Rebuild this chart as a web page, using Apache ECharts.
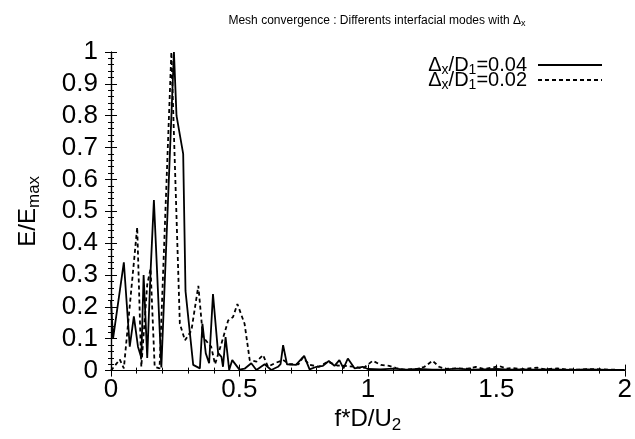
<!DOCTYPE html>
<html><head><meta charset="utf-8">
<script src="https://cdn.jsdelivr.net/npm/echarts@6/dist/echarts.min.js"></script>
<style>html,body{margin:0;padding:0;background:#fff}#c{width:635px;height:439px}</style>
</head><body><div id="c"></div>
<script>
var xTicks = [0, 0.5, 1, 1.5, 2];
var yTicks = [0, 0.1, 0.2, 0.3, 0.4, 0.5, 0.6, 0.7, 0.8, 0.9, 1];
var seriesNames = ['dx004', 'dx002'];
var legendLabels = ['\u0394{s|x}/D{s|1}=0.04', '\u0394{s|x}/D{s|1}=0.02'];

var solidX = [0, 0.008, 0.05, 0.073, 0.089, 0.105, 0.118, 0.127, 0.141, 0.154,
  0.167, 0.196, 0.245, 0.255, 0.281, 0.29, 0.32, 0.346, 0.356, 0.369,
  0.382, 0.397, 0.417, 0.43, 0.436, 0.446, 0.46, 0.472, 0.5, 0.52,
  0.546, 0.566, 0.598, 0.624, 0.65, 0.66, 0.67, 0.685, 0.72, 0.752, 0.773,
  0.8, 0.825, 0.848, 0.87, 0.889, 0.905, 0.922, 0.948, 0.98, 1.0,
  1.05, 1.1, 1.15, 1.2, 1.25, 1.3, 1.35, 1.4, 1.45, 1.5,
  1.55, 1.6, 1.65, 1.7, 1.75, 1.8, 1.85, 1.9, 1.95, 2.0];
var solidY = [0.22, 0.10, 0.34, 0.075, 0.17, 0.075, 0.04, 0.30, 0.04, 0.31,
  0.535, 0.01, 1.0, 0.8, 0.68, 0.25, 0.018, 0.007, 0.147, 0.054,
  0.023, 0.24, 0.055, 0.043, 0.012, 0.105, 0.002, 0.033, 0.003, 0.006,
  0.023, 0.002, 0.02, 0.002, 0.012, 0.02, 0.08, 0.02, 0.018, 0.046, 0.004,
  0.012, 0.015, 0.03, 0.015, 0.033, 0.007, 0.038, 0.007, 0.012, 0.005,
  0.004, 0.006, 0.003, 0.005, 0.003, 0.004, 0.006, 0.003, 0.004, 0.005,
  0.003, 0.004, 0.003, 0.004, 0.003, 0.002, 0.004, 0.003, 0.002, 0.002];

var dashedX = [0, 0.034, 0.05, 0.102, 0.118, 0.141, 0.154, 0.17, 0.189, 0.235,
  0.268, 0.288, 0.313, 0.34, 0.358, 0.39, 0.405, 0.43, 0.456, 0.475,
  0.492, 0.52, 0.54, 0.566, 0.592, 0.611, 0.637, 0.67, 0.695, 0.73,
  0.747, 0.773, 0.81, 0.844, 0.88, 0.91, 0.95, 0.98, 1.019, 1.05,
  1.083, 1.11, 1.14, 1.19, 1.22, 1.252, 1.277, 1.3, 1.34, 1.39,
  1.42, 1.45, 1.49, 1.51, 1.54, 1.56, 1.6, 1.627, 1.66, 1.69,
  1.737, 1.77, 1.82, 1.86, 1.9, 1.95, 2.0];
var dashedY = [0.0, 0.035, 0.007, 0.45, 0.012, 0.27, 0.32, 0.012, 0.007, 1.0,
  0.147, 0.095, 0.126, 0.266, 0.105, 0.075, 0.02, 0.085, 0.157, 0.168,
  0.209, 0.147, 0.033, 0.028, 0.049, 0.012, 0.023, 0.033, 0.02, 0.02,
  0.041, 0.018, 0.012, 0.028, 0.016, 0.015, 0.012, 0.006, 0.031, 0.018,
  0.015, 0.008, 0.003, 0.005, 0.012, 0.031, 0.012, 0.005, 0.007, 0.006,
  0.012, 0.005, 0.01, 0.015, 0.006, 0.008, 0.004, 0.007, 0.009, 0.004,
  0.007, 0.004, 0.003, 0.005, 0.004, 0.003, 0.002];

function pairs(xs, ys) { return xs.map(function (x, i) { return [x, ys[i]]; }); }

var FONT = 'Liberation Sans, Arial, sans-serif';
var SOLID_ICON = 'path://M0,0h64v2h-64z';
var DASH_ICON = 'path://M0,0h4v2h-4z M7,0h4v2h-4z M14,0h4v2h-4z M21,0h4v2h-4z M28,0h4v2h-4z M35,0h4v2h-4z M42,0h4v2h-4z M49,0h4v2h-4z M56,0h4v2h-4z M63,0h1v2h-1z';
var axisCommon = {
  axisLine: { show: true, lineStyle: { color: '#000', width: 1.2 } },
  axisTick: { show: true, inside: true, length: 6, lineStyle: { color: '#000', width: 1 } },
  minorTick: { show: true, splitNumber: 5, length: 3, lineStyle: { color: '#000', width: 1 } },
  splitLine: { show: false }
};
function ax(extra) { return Object.assign({}, JSON.parse(JSON.stringify(axisCommon)), extra); }

var chart = echarts.init(document.getElementById('c'), null, { renderer: 'canvas' });
chart.setOption({
  animation: false,
  backgroundColor: '#fff',
  title: {
    text: 'Mesh convergence : Differents interfacial modes with \u0394{s|x}',
    left: 372, top: 8, textAlign: 'center',
    textStyle: { fontFamily: FONT, fontSize: 12, fontWeight: 'normal', color: '#000',
      rich: { s: { fontFamily: FONT, fontSize: 9, padding: [6, 0, 0, 0], color: '#000' } } }
  },
  grid: { left: 111, right: 9, top: 52, bottom: 65, containLabel: false },
  legend: {
    orient: 'vertical', right: 28, top: 50, itemGap: -7, itemWidth: 64, itemHeight: 2,
    align: 'right',
    data: [{ name: seriesNames[0], icon: SOLID_ICON }, { name: seriesNames[1], icon: DASH_ICON }],
    formatter: function (n) { return legendLabels[seriesNames.indexOf(n)]; },
    textStyle: { fontFamily: FONT, fontSize: 20, color: '#000', padding: [0, 6, 0, 0],
      rich: { s: { fontFamily: FONT, fontSize: 14, padding: [10, 0, 0, 0], color: '#000' } } }
  },
  xAxis: [
    ax({ type: 'value', position: 'bottom', min: xTicks[0], max: xTicks[xTicks.length - 1], interval: 0.5,
      name: 'f*D/U{s|2}', nameLocation: 'middle', nameGap: 27,
      nameTextStyle: { fontFamily: FONT, fontSize: 24, color: '#000',
        rich: { s: { fontFamily: FONT, fontSize: 17, padding: [12, 0, 0, 0], color: '#000' } } },
      axisLabel: { fontFamily: FONT, fontSize: 26, color: '#000', margin: 6, showMinLabel: true, showMaxLabel: true } }),
    ax({ type: 'value', position: 'top', min: xTicks[0], max: xTicks[xTicks.length - 1], interval: 0.5,
      axisLabel: { show: false } })
  ],
  yAxis: [
    ax({ type: 'value', position: 'left', min: yTicks[0], max: yTicks[yTicks.length - 1], interval: 0.1,
      name: 'E/E{s|max}', nameLocation: 'middle', nameGap: 68, nameRotate: 90,
      nameTextStyle: { fontFamily: FONT, fontSize: 24, color: '#000',
        rich: { s: { fontFamily: FONT, fontSize: 17, padding: [12, 0, 0, 0], color: '#000' } } },
      axisLabel: { fontFamily: FONT, fontSize: 26, color: '#000', margin: 13,
        formatter: function (v) { return String(Math.round(v * 10) / 10); } } }),
    ax({ type: 'value', position: 'right', min: yTicks[0], max: yTicks[yTicks.length - 1], interval: 0.1,
      axisLabel: { show: false } })
  ],
  series: [
    { name: seriesNames[0], type: 'line', xAxisIndex: 0, yAxisIndex: 0, symbol: 'none',
      data: pairs(solidX, solidY),
      lineStyle: { color: '#000', width: 1.8, type: 'solid' }, itemStyle: { color: '#000' } },
    { name: seriesNames[1], type: 'line', xAxisIndex: 0, yAxisIndex: 0, symbol: 'none',
      data: pairs(dashedX, dashedY),
      lineStyle: { color: '#000', width: 1.8, type: [4, 3] }, itemStyle: { color: '#000' } }
  ]
});
</script></body></html>
